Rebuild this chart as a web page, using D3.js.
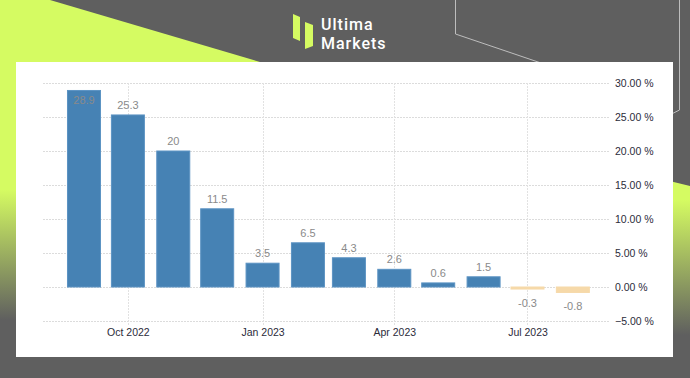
<!DOCTYPE html>
<html>
<head>
<meta charset="utf-8">
<script src="https://cdn.jsdelivr.net/npm/d3@7"></script>
<style>
  html, body { margin: 0; padding: 0; background: #5f5f5f; }
  svg { display: block; }
</style>
</head>
<body>
<svg id="chart" width="690" height="378"></svg>
<script>
// Data.
const months = ['2022-09', '2022-10', '2022-11', '2022-12', '2023-01', '2023-02',
                '2023-03', '2023-04', '2023-05', '2023-06', '2023-07', '2023-08']
const values = [28.9, 25.3, 20, 11.5, 3.5, 6.5, 4.3, 2.6, 0.6, 1.5, -0.3, -0.8]
const yTicks = [-5, 0, 5, 10, 15, 20, 25, 30]
const xTicks = ['2022-10', '2023-01', '2023-04', '2023-07']

// Some constants.
const WIDTH     = 690
const HEIGHT    = 378
const LIME      = '#d5fb62'
const GREY_BG   = '#5f5f5f'
const BAR_WIDTH = 33
const parse     = d3.timeParse('%Y-%m')

const svg  = d3.select('#chart')
const defs = svg.append('defs')

// Background: grey page, lime wedges fading into the grey.
function fade(id, y1, y2) {
  const g = defs.append('linearGradient')
    .attr('id', id)
    .attr('gradientUnits', 'userSpaceOnUse')
    .attr('x1', 0).attr('x2', 0).attr('y1', y1).attr('y2', y2)
  g.append('stop').attr('offset', 0).attr('stop-color', LIME)
  g.append('stop').attr('offset', 1).attr('stop-color', GREY_BG)
}
fade('fadeLeft', 190, 320)
fade('fadeRight', 200, 335)

svg.append('rect').attr('width', WIDTH).attr('height', HEIGHT).attr('fill', GREY_BG)
svg.append('path')
  .attr('d', 'M0,0 L50,0 L930,260 L0,378 Z')
  .attr('fill', 'url(#fadeLeft)')
svg.append('path')
  .attr('d', 'M600,164 L690,186 L690,378 L600,378 Z')
  .attr('fill', 'url(#fadeRight)')

// Thin outline lines, top right.
svg.append('path')
  .attr('d', 'M455.5,0 L455.5,34 L600,83')
  .attr('fill', 'none').attr('stroke', '#bdbdbd').attr('stroke-width', 1)
svg.append('path')
  .attr('d', 'M679.5,0 L679.5,110 L600,150')
  .attr('fill', 'none').attr('stroke', '#bdbdbd').attr('stroke-width', 1)

// Logo: mark plus a two-line word block.
const logo = svg.append('g')
logo.append('path').attr('d', 'M293,14 L300,17 L300,41 L293,38 Z').attr('fill', LIME)
logo.append('path').attr('d', 'M305,22 L313,25 L313,46 L305,49 Z').attr('fill', LIME)
const word = logo.append('text')
  .attr('font-family', 'Roboto').attr('font-weight', 500).attr('font-size', 16)
  .attr('letter-spacing', 1)
  .attr('fill', 'white')
word.append('tspan').attr('x', 321).attr('y', 30).text('Ultima')
word.append('tspan').attr('x', 321).attr('y', 49).text('Markets')

// White panel.
svg.append('rect')
  .attr('x', 16).attr('y', 62).attr('width', 657).attr('height', 295)
  .attr('fill', 'white')

// Scales.
const x = d3.scaleTime()
  .domain([new Date(2022, 7, 4), new Date(2023, 7, 25)])
  .range([43, 608])
const y = d3.scaleLinear()
  .domain([-5, 30])
  .range([321, 83])

const plot = svg.append('g')

// Grid.
plot.append('g')
  .selectAll('line')
  .data(yTicks).enter()
  .append('line')
  .attr('x1', 43).attr('x2', 610)
  .attr('y1', (d) => y(d) + 0.5).attr('y2', (d) => y(d) + 0.5)
  .attr('stroke', '#dcdcdc').attr('stroke-dasharray', '2,1')
plot.append('g')
  .selectAll('line')
  .data(xTicks.map(parse)).enter()
  .append('line')
  .attr('x1', (d) => Math.round(x(d)) + 0.5).attr('x2', (d) => Math.round(x(d)) + 0.5)
  .attr('y1', 83).attr('y2', 326)
  .attr('stroke', '#e2e2e2').attr('stroke-dasharray', '2,1')

// Axes (labels only).
const yAxis = plot.append('g')
  .attr('transform', 'translate(612,0)')
  .call(d3.axisRight(y).tickValues(yTicks).tickSize(0).tickFormat((d) => d3.format('.2f')(d) + ' %'))
const xAxis = plot.append('g')
  .attr('transform', 'translate(0,326)')
  .call(d3.axisBottom(x).tickValues(xTicks.map(parse)).tickSize(0).tickFormat(d3.timeFormat('%b %Y')))
for (const axis of [yAxis, xAxis]) {
  axis.select('.domain').remove()
  axis.selectAll('text')
    .attr('font-family', 'Liberation Sans, Arial, sans-serif')
    .attr('font-size', 10.5)
    .attr('fill', '#2b2b3a')
}

// Bars.
const data = months.map((m, i) => ({ date: parse(m), value: values[i] }))
plot.append('g')
  .selectAll('rect')
  .data(data).enter()
  .append('rect')
  .attr('x', (d) => x(d.date) - BAR_WIDTH / 2)
  .attr('width', BAR_WIDTH)
  .attr('y', (d) => Math.min(y(d.value), y(0)))
  .attr('height', (d) => Math.abs(y(d.value) - y(0)))
  .attr('fill', (d) => d.value >= 0 ? '#4682b4' : '#f6d9a9')
  .attr('stroke', (d) => d.value >= 0 ? '#5c93c3' : '#f6d9a9')
  .attr('stroke-width', 1)

// Value labels: above positive bars, inside when there's no room, below negative bars.
plot.append('g')
  .selectAll('text')
  .data(data).enter()
  .append('text')
  .attr('x', (d) => x(d.date))
  .attr('y', (d) => {
    if (d.value < 0) return y(d.value) + 18
    const above = y(d.value) - 6
    return above - 8 < y.range()[1] ? y(d.value) + 14 : above
  })
  .attr('text-anchor', 'middle')
  .attr('font-family', 'Liberation Sans, Arial, sans-serif')
  .attr('font-size', 11)
  .attr('fill', '#8a8a8a')
  .text((d) => d.value)
</script>
</body>
</html>
